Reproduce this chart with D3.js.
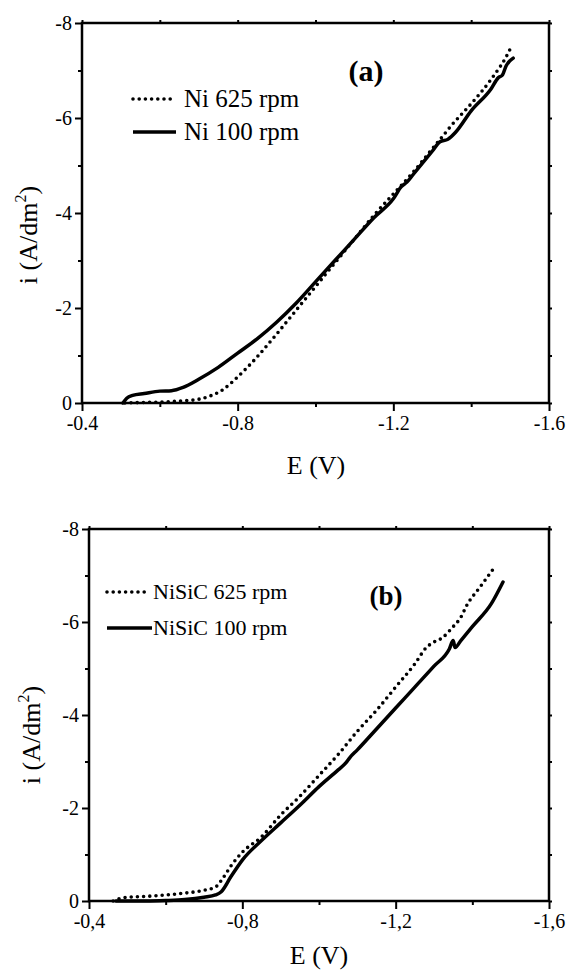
<!DOCTYPE html>
<html>
<head>
<meta charset="utf-8">
<script src="https://cdn.jsdelivr.net/npm/d3@7"></script>
<style>
  html, body { margin: 0; padding: 0; background: #fff; }
  svg { display: block; }
  text { font-family: "Liberation Serif", "Times New Roman", serif; fill: #000; }
</style>
</head>
<body>
<svg id="chart" width="569" height="978"></svg>
<script>
// ---------- data ----------
// Panel (a): Ni
const ni625E = [-0.51,-0.55,-0.6,-0.65,-0.7,-0.73,-0.76,-0.8,-0.85,-0.9,-0.95,-1.0,-1.05,-1.1,-1.15,-1.2,-1.25,-1.3,-1.33,-1.35,-1.4,-1.45,-1.5,-1.505];
const ni625I = [0,-0.01,-0.02,-0.04,-0.08,-0.15,-0.27,-0.55,-0.97,-1.45,-1.95,-2.45,-2.95,-3.45,-3.95,-4.4,-4.85,-5.35,-5.65,-5.85,-6.3,-6.8,-7.45,-7.54];
const ni100E = [-0.505,-0.515,-0.53,-0.56,-0.6,-0.63,-0.66,-0.7,-0.75,-0.8,-0.85,-0.9,-0.95,-1.0,-1.05,-1.1,-1.15,-1.2,-1.22,-1.235,-1.25,-1.3,-1.32,-1.34,-1.36,-1.4,-1.45,-1.47,-1.48,-1.49,-1.508];
const ni100I = [0,-0.1,-0.16,-0.2,-0.25,-0.26,-0.33,-0.5,-0.75,-1.05,-1.35,-1.7,-2.1,-2.55,-3.0,-3.45,-3.9,-4.3,-4.55,-4.65,-4.8,-5.3,-5.5,-5.55,-5.7,-6.15,-6.6,-6.85,-6.9,-7.1,-7.26];
// Panel (b): NiSiC
const nisic625E = [-0.463,-0.48,-0.5,-0.55,-0.6,-0.65,-0.7,-0.73,-0.75,-0.77,-0.8,-0.85,-0.9,-0.95,-1.0,-1.05,-1.1,-1.15,-1.2,-1.25,-1.28,-1.3,-1.32,-1.35,-1.37,-1.385,-1.42,-1.46];
const nisic625I = [0,-0.05,-0.08,-0.1,-0.13,-0.17,-0.23,-0.3,-0.5,-0.75,-1.05,-1.38,-1.85,-2.25,-2.7,-3.15,-3.65,-4.1,-4.6,-5.1,-5.45,-5.57,-5.65,-5.9,-6.1,-6.35,-6.75,-7.2];
const nisic100E = [-0.47,-0.55,-0.6,-0.65,-0.7,-0.73,-0.745,-0.77,-0.8,-0.85,-0.9,-0.95,-1.0,-1.05,-1.07,-1.08,-1.1,-1.15,-1.2,-1.25,-1.3,-1.34,-1.35,-1.355,-1.37,-1.4,-1.45,-1.48];
const nisic100I = [0,0,-0.01,-0.03,-0.08,-0.13,-0.2,-0.52,-0.88,-1.3,-1.68,-2.06,-2.46,-2.82,-2.97,-3.08,-3.25,-3.7,-4.15,-4.6,-5.05,-5.42,-5.6,-5.45,-5.6,-5.9,-6.4,-6.86];

// ---------- ticks ----------
const xTicks = [-0.4, -0.8, -1.2, -1.6];
const xMinor = [-0.6, -1.0, -1.4];
const xLabelsA = ["-0.4", "-0.8", "-1.2", "-1.6"];
const xLabelsB = ["-0,4", "-0,8", "-1,2", "-1,6"];
const yTicks = [0, -2, -4, -6, -8];
const yMinor = [-1, -3, -5, -7];
const yLabels = ["0", "-2", "-4", "-6", "-8"];

const legendA = ["Ni 625 rpm", "Ni 100 rpm"];
const legendB = ["NiSiC 625 rpm", "NiSiC 100 rpm"];

const svg = d3.select("#chart");

function zip(E, I) { return E.map((e, k) => ({ e: e, i: I[k] })); }

function panel(cfg) {
  const x = d3.scaleLinear().domain([-0.4, -1.6]).range([cfg.left, cfg.right]);
  const y = d3.scaleLinear().domain([0, -8]).range([cfg.bottom, cfg.top]);
  const g = svg.append("g");

  // frame
  g.append("rect").attr("x", cfg.left).attr("y", cfg.top)
    .attr("width", cfg.right - cfg.left).attr("height", cfg.bottom - cfg.top)
    .attr("fill", "none").attr("stroke", "#000").attr("stroke-width", 2.5);

  const styleAxis = (sel) => {
    sel.attr("font-family", null).attr("font-size", null);
    sel.select(".domain").remove();
    sel.selectAll(".tick line").attr("stroke", "#000").attr("stroke-width", 2);
    sel.selectAll(".tick text").style("font-family", '"Liberation Serif", serif').style("font-size", "20px");
  };

  // bottom axis
  const xb = g.append("g").attr("transform", `translate(0,${cfg.bottom})`)
    .call(d3.axisBottom(x).tickValues(xTicks).tickSize(8).tickPadding(5)
      .tickFormat((d, k) => cfg.xLabels[k]));
  styleAxis(xb);
  const xbm = g.append("g").attr("transform", `translate(0,${cfg.bottom})`)
    .call(d3.axisBottom(x).tickValues(xMinor).tickSize(4).tickFormat(""));
  styleAxis(xbm);
  // top mirrored ticks
  const xt = g.append("g").attr("transform", `translate(0,${cfg.top})`)
    .call(d3.axisTop(x).tickValues(xTicks.concat(xMinor)).tickSize(3).tickFormat(""));
  styleAxis(xt);

  // left axis
  const yl = g.append("g").attr("transform", `translate(${cfg.left},0)`)
    .call(d3.axisLeft(y).tickValues(yTicks).tickSize(7).tickPadding(3)
      .tickFormat((d, k) => yLabels[k]));
  styleAxis(yl);
  const ylm = g.append("g").attr("transform", `translate(${cfg.left},0)`)
    .call(d3.axisLeft(y).tickValues(yMinor).tickSize(4).tickFormat(""));
  styleAxis(ylm);
  // right mirrored ticks
  const yr = g.append("g").attr("transform", `translate(${cfg.right},0)`)
    .call(d3.axisRight(y).tickValues(yTicks.concat(yMinor)).tickSize(3).tickFormat(""));
  styleAxis(yr);

  const line = d3.line().x(d => x(d.e)).y(d => y(d.i)).curve(d3.curveMonotoneX);

  // solid
  g.append("path").datum(cfg.solid).attr("d", line)
    .attr("fill", "none").attr("stroke", "#000").attr("stroke-width", 3.5)
    .attr("stroke-linejoin", "round").attr("stroke-linecap", "round");
  // dotted
  g.append("path").datum(cfg.dotted).attr("d", line)
    .attr("fill", "none").attr("stroke", "#000").attr("stroke-width", 3.6)
    .attr("stroke-dasharray", "0,6.2").attr("stroke-linecap", "round");

  // axis titles
  const yt = g.append("text")
    .attr("transform", `translate(${cfg.yTitleX},${cfg.yTitleY}) rotate(-90)`)
    .attr("text-anchor", "middle").style("font-size", "26px");
  yt.append("tspan").text("i (A/dm");
  yt.append("tspan").attr("dy", -11).style("font-size", "16px").text("2");
  yt.append("tspan").attr("dy", 11).text(")");

  g.append("text").attr("x", cfg.xTitleX).attr("y", cfg.xTitleY)
    .attr("text-anchor", "middle").style("font-size", "26px").text("E (V)");

  // panel tag
  g.append("text").attr("x", cfg.tagX).attr("y", cfg.tagY)
    .attr("text-anchor", "middle").style("font-size", cfg.tagSize + "px")
    .style("font-weight", "bold").text(cfg.tag);

  // legend
  const L = cfg.legend;
  g.append("line").attr("x1", L.x1).attr("x2", L.x2).attr("y1", L.y1).attr("y2", L.y1)
    .attr("stroke", "#000").attr("stroke-width", 3.6)
    .attr("stroke-dasharray", "0,6.2").attr("stroke-linecap", "round");
  g.append("line").attr("x1", L.x1).attr("x2", L.x2 + 4).attr("y1", L.y2).attr("y2", L.y2)
    .attr("stroke", "#000").attr("stroke-width", 3.5);
  g.append("text").attr("x", L.tx).attr("y", L.y1 + L.off).style("font-size", L.size + "px").text(cfg.legendText[0]);
  g.append("text").attr("x", L.tx).attr("y", L.y2 + L.off).style("font-size", L.size + "px").text(cfg.legendText[1]);
}

panel({
  left: 82, right: 549, top: 23, bottom: 403,
  xLabels: xLabelsA,
  solid: zip(ni100E, ni100I), dotted: zip(ni625E, ni625I),
  yTitleX: 37, yTitleY: 235, xTitleX: 316, xTitleY: 474,
  tag: "(a)", tagX: 366, tagY: 81, tagSize: 30,
  legend: { x1: 133, x2: 172, y1: 99, y2: 132, tx: 184, off: 8, size: 25 },
  legendText: legendA
});

panel({
  left: 89, right: 549, top: 529, bottom: 901,
  xLabels: xLabelsB,
  solid: zip(nisic100E, nisic100I), dotted: zip(nisic625E, nisic625I),
  yTitleX: 40, yTitleY: 735, xTitleX: 319, xTitleY: 964,
  tag: "(b)", tagX: 386, tagY: 605, tagSize: 27,
  legend: { x1: 107, x2: 148, y1: 592, y2: 628, tx: 153, off: 7, size: 22 },
  legendText: legendB
});
</script>
</body>
</html>
